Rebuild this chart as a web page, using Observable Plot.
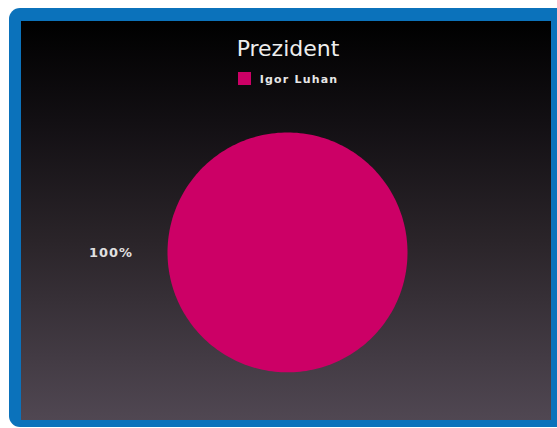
<!DOCTYPE html>
<html>
<head>
<meta charset="utf-8">
<script src="https://cdn.jsdelivr.net/npm/d3@7"></script>
<script src="https://cdn.jsdelivr.net/npm/@observablehq/plot@0.6"></script>
<style>
  html, body { margin: 0; padding: 0; background: #ffffff; width: 557px; height: 428px; overflow: hidden; }
  #frame {
    position: absolute; left: 9px; top: 8px; width: 560px; height: 419px;
    background: #0b72bb; border-radius: 11px;
  }
  #inner {
    position: absolute; left: 21px; top: 21px; width: 530px; height: 399px;
    background: linear-gradient(to bottom, #000000 0%, #120f13 25%, #2a2429 55%, #504752 100%);
  }
  #title {
    position: absolute; left: 0; width: 534px; top: 15px; text-align: center;
    font-family: "DejaVu Sans", sans-serif; font-size: 22px; color: #eeeeee;
  }
  #legend {
    position: absolute; left: 0; width: 534px; top: 51px; text-align: center;
    font-family: "DejaVu Sans", sans-serif; font-size: 11px; font-weight: bold; color: #e6e6e6; letter-spacing: 1.2px;
  }
  #legend .sw { display: inline-block; width: 13px; height: 13px; vertical-align: -2px; margin-right: 9px; }
  #chart { position: absolute; left: 2px; top: 81px; }
</style>
</head>
<body>
<div id="frame"></div>
<div id="inner">
  <div id="title"></div>
  <div id="legend"></div>
  <div id="chart"></div>
</div>
<script>
const title = "Prezident";
const names = ["Igor Luhan"];
const values = [100];
const colors = ["#cc0066"];
const labels = ["100%"];

document.getElementById("title").textContent = title;
const legend = document.getElementById("legend");
names.forEach((n, i) => {
  const s = document.createElement("span");
  s.className = "sw"; s.style.background = colors[i];
  legend.appendChild(s);
  legend.appendChild(document.createTextNode(n));
});

const data = names.map((name, i) => ({name, value: values[i], label: labels[i]}));
const arcs = d3.pie().value(d => d.value).sort(null)
  .startAngle(-1.5 * Math.PI).endAngle(0.5 * Math.PI)(data);

const points = [];
arcs.forEach(a => {
  const full = (a.endAngle - a.startAngle) >= 2 * Math.PI - 1e-9;
  if (!full) points.push({name: a.data.name, x: 0, y: 0});
  const n = 240;
  for (let k = 0; k <= n; k++) {
    const t = a.startAngle + (a.endAngle - a.startAngle) * k / n;
    points.push({name: a.data.name, x: Math.sin(t), y: Math.cos(t)});
  }
});
const labelPts = arcs.map(a => {
  const m = (a.startAngle + a.endAngle) / 2;
  return {label: a.data.label, x: 1.47 * Math.sin(m), y: 1.47 * Math.cos(m)};
});

const plot = Plot.plot({
  width: 530, height: 301,
  margin: 0,
  x: {domain: [-2.2, 2.2], axis: null},
  y: {domain: [-1.25, 1.25], axis: null},
  color: {domain: names, range: colors},
  style: {background: "transparent", overflow: "visible"},
  marks: [
    Plot.line(points, {x: "x", y: "y", z: "name", fill: "name", stroke: null, curve: "linear-closed"}),
    Plot.text(labelPts, {x: "x", y: "y", text: "label", fill: "#e0e0e0", fontSize: 13, fontWeight: 600, fontFamily: "DejaVu Sans, sans-serif"})
  ]
});
plot.querySelectorAll("text").forEach(t => t.setAttribute("letter-spacing", "1"));
document.getElementById("chart").appendChild(plot);
</script>
</body>
</html>
